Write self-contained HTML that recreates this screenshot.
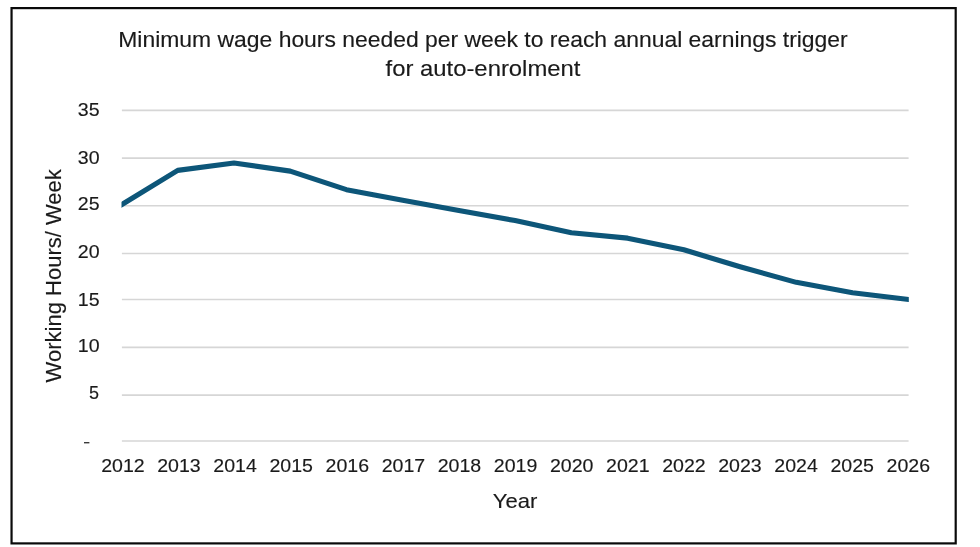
<!DOCTYPE html>
<html><head><meta charset="utf-8">
<style>
html,body{margin:0;padding:0;background:#fff;width:980px;height:547px;overflow:hidden;}
svg{display:block;will-change:transform;filter:blur(0.35px);}
text{font-family:"Liberation Sans",sans-serif;fill:#1a1a1a;stroke:#1a1a1a;stroke-width:0.15px;}
</style></head>
<body>
<svg width="980" height="547" viewBox="0 0 980 547">
<defs><clipPath id="pa"><rect x="121.50" y="0" width="787.30" height="547"/></clipPath></defs>
<rect x="0" y="0" width="980" height="547" fill="#fff"/>
<rect x="11.55" y="8.1" width="944.15" height="535.3" fill="none" stroke="#0a0a0a" stroke-width="2.2"/>
<g stroke="#d6d6d6" stroke-width="1.6">
<line x1="121.9" x2="908.6" y1="110.36" y2="110.36"/>
<line x1="121.9" x2="908.6" y1="158.14" y2="158.14"/>
<line x1="121.9" x2="908.6" y1="205.75" y2="205.75"/>
<line x1="121.9" x2="908.6" y1="253.47" y2="253.47"/>
<line x1="121.9" x2="908.6" y1="299.48" y2="299.48"/>
<line x1="121.9" x2="908.6" y1="347.36" y2="347.36"/>
<line x1="121.9" x2="908.6" y1="395.14" y2="395.14"/>
<line x1="121.9" x2="908.6" y1="441.03" y2="441.03"/>
</g>
<polyline clip-path="url(#pa)" fill="none" stroke="#0d5679" stroke-width="5.1" stroke-linejoin="round" stroke-linecap="round" points="111.50,210.88 121.50,204.76 177.74,170.35 233.97,163.00 290.21,171.13 346.44,189.67 402.68,200.15 458.91,210.51 515.15,220.58 571.39,232.67 627.62,238.14 683.86,249.81 740.09,266.74 796.33,282.36 852.56,292.77 908.80,299.52 918.80,300.72"/>
<g font-size="21.5" text-anchor="middle">
<text x="483" y="46.65" textLength="729.4" lengthAdjust="spacingAndGlyphs">Minimum wage hours needed per week to reach annual earnings trigger</text>
<text x="483" y="75.6" textLength="194.9" lengthAdjust="spacingAndGlyphs">for auto-enrolment</text>
</g>
<g font-size="18" text-anchor="end">
<text x="99.6" y="116.20" textLength="21.8" lengthAdjust="spacingAndGlyphs">35</text>
<text x="99.6" y="164.10" textLength="21.8" lengthAdjust="spacingAndGlyphs">30</text>
<text x="99.6" y="210.00" textLength="21.8" lengthAdjust="spacingAndGlyphs">25</text>
<text x="99.6" y="257.90" textLength="21.8" lengthAdjust="spacingAndGlyphs">20</text>
<text x="99.6" y="305.50" textLength="21.8" lengthAdjust="spacingAndGlyphs">15</text>
<text x="99.6" y="351.80" textLength="21.8" lengthAdjust="spacingAndGlyphs">10</text>
<text x="99.0" y="399.30">5</text>
<rect x="84.0" y="442.0" width="5.4" height="1.4" fill="#3a3a3a"/>
</g>
<g font-size="18.3" text-anchor="middle">
<text x="122.90" y="472.1" textLength="43.5" lengthAdjust="spacingAndGlyphs">2012</text>
<text x="179.00" y="472.1" textLength="43.5" lengthAdjust="spacingAndGlyphs">2013</text>
<text x="235.10" y="472.1" textLength="43.5" lengthAdjust="spacingAndGlyphs">2014</text>
<text x="291.20" y="472.1" textLength="43.5" lengthAdjust="spacingAndGlyphs">2015</text>
<text x="347.30" y="472.1" textLength="43.5" lengthAdjust="spacingAndGlyphs">2016</text>
<text x="403.40" y="472.1" textLength="43.5" lengthAdjust="spacingAndGlyphs">2017</text>
<text x="459.50" y="472.1" textLength="43.5" lengthAdjust="spacingAndGlyphs">2018</text>
<text x="515.60" y="472.1" textLength="43.5" lengthAdjust="spacingAndGlyphs">2019</text>
<text x="571.70" y="472.1" textLength="43.5" lengthAdjust="spacingAndGlyphs">2020</text>
<text x="627.80" y="472.1" textLength="43.5" lengthAdjust="spacingAndGlyphs">2021</text>
<text x="683.90" y="472.1" textLength="43.5" lengthAdjust="spacingAndGlyphs">2022</text>
<text x="740.00" y="472.1" textLength="43.5" lengthAdjust="spacingAndGlyphs">2023</text>
<text x="796.10" y="472.1" textLength="43.5" lengthAdjust="spacingAndGlyphs">2024</text>
<text x="852.20" y="472.1" textLength="43.5" lengthAdjust="spacingAndGlyphs">2025</text>
<text x="908.30" y="472.1" textLength="43.5" lengthAdjust="spacingAndGlyphs">2026</text>
</g>
<text x="515" y="508.0" font-size="21" text-anchor="middle" textLength="44.6" lengthAdjust="spacingAndGlyphs">Year</text>
<text transform="translate(61.1,275.8) rotate(-90)" font-size="21.5" text-anchor="middle" textLength="213.3" lengthAdjust="spacingAndGlyphs">Working Hours/ Week</text>
</svg>
</body></html>
